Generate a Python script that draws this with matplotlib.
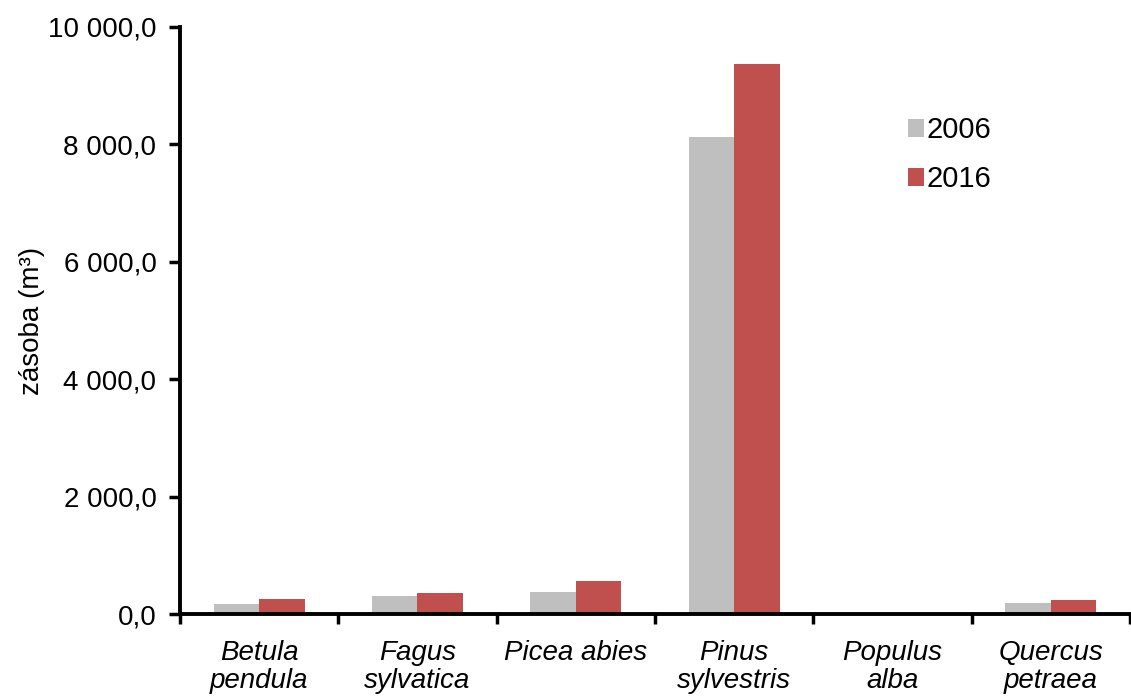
import matplotlib
matplotlib.use("Agg")
import matplotlib.pyplot as plt
import numpy as np
from matplotlib.ticker import FuncFormatter, FixedLocator

plt.rcParams['font.family'] = ['Liberation Sans', 'DejaVu Sans']

species = ["Betula\npendula", "Fagus\nsylvatica", "Picea abies",
           "Pinus\nsylvestris", "Populus\nalba", "Quercus\npetraea"]
years = ["2006", "2016"]
stock_2006 = [175, 307, 380, 8130, 0, 182]
stock_2016 = [255, 352, 557, 9370, 0, 233]
colors = ["#BFBFBF", "#C0504D"]

fig = plt.figure(figsize=(11.31, 6.97), dpi=100)
ax = fig.add_axes([180 / 1131, 83 / 697, 950 / 1131, 587 / 697])

x = np.arange(len(species))
w = 0.287
ax.bar(x - w / 2, stock_2006, w, color=colors[0], label=years[0])
ax.bar(x + w / 2, stock_2016, w, color=colors[1], label=years[1])

ax.set_xlim(-0.5, len(species) - 0.5)
ax.set_ylim(0, 10000)
ax.set_yticks(np.arange(0, 10001, 2000))

def fmt(v, pos):
    s = f"{v:,.1f}".replace(",", " ").replace(".", ",")
    return s

ax.yaxis.set_major_formatter(FuncFormatter(fmt))
ax.set_xticks(x)
ax.set_xticklabels(species, fontstyle="italic", fontsize=20, va="top",
                   linespacing=1.1)
ax.tick_params(axis="x", which="major", length=0, pad=19)
ax.xaxis.set_minor_locator(FixedLocator(np.arange(-0.5, len(species), 1.0)))
ax.tick_params(axis="x", which="minor", length=7, width=2.5, direction="out")
ax.tick_params(axis="y", labelsize=20, length=8, width=2.5, direction="out", pad=9)

for side in ("top", "right"):
    ax.spines[side].set_visible(False)
for side in ("left", "bottom"):
    ax.spines[side].set_linewidth(2.8)

ax.set_ylabel("zásoba (m³)", fontsize=20, labelpad=2)

ax.legend(frameon=False, fontsize=21, loc="upper left",
          bbox_to_anchor=(0.766, 0.848), borderpad=0, borderaxespad=0,
          handlelength=0.55, handleheight=0.55, handletextpad=0.1,
          labelspacing=0.72)

fig.savefig("out.png", dpi=100)
